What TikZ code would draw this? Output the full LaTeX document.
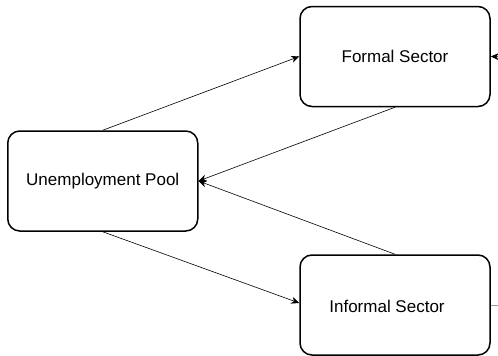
\documentclass[tikz,border=0pt]{standalone}
\usepackage{fontspec}
\setmainfont{Liberation Sans}
\usetikzlibrary{arrows.meta}
\begin{document}
\begin{tikzpicture}[x=1pt,y=-1pt,
  box/.style={draw=black,line width=1.5pt,rounded corners=12pt,minimum width=190pt,minimum height=100pt,inner sep=0pt,font=\fontsize{17}{20}\selectfont},
  conn/.style={draw=black,line width=0.6pt,-{Stealth[length=8pt,width=7pt,inset=2.5pt]}},
  stub/.style={draw=black!40,line width=0.8pt}]
\clip (0,0) rectangle (498,356);
\node[box] (fs) at (395,56.5) {Formal Sector};
\node[box] (up) at (102.75,181) {Unemployment Pool};
\node[box,label={[xshift=-8pt,yshift=-1pt,font=\fontsize{17}{20}\selectfont]center:Informal Sector}] (inf) at (395,305) {};
\coordinate (rin) at (520,57);
\coordinate (rout) at (520,305);
\draw[conn] (up.north) -- (fs.west);
\draw[conn] (fs.south) -- (up.east);
\draw[conn] (inf.north) -- (up.east);
\draw[conn] (up.south) -- ([yshift=2pt]inf.west);
\draw[conn] (rin) -- (fs.east);
\draw[stub] (inf.east) -- (rout);
\end{tikzpicture}
\end{document}
